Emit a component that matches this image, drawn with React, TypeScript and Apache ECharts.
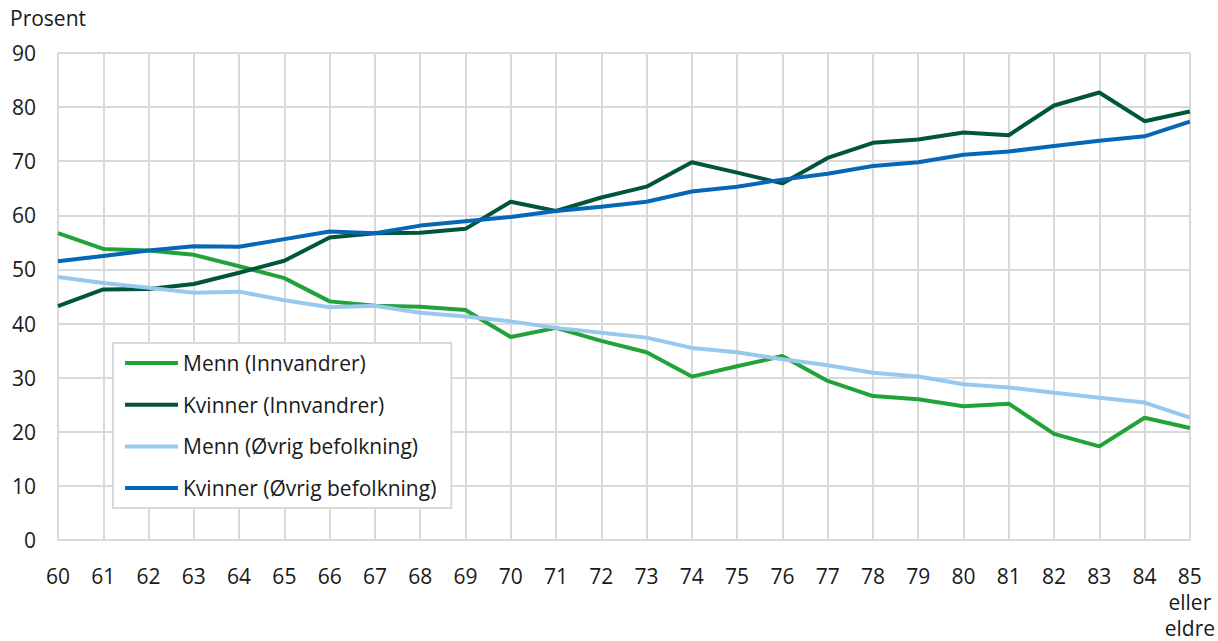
import React, { useEffect, useRef } from "react";
import * as echarts from "echarts";

const categories = ["60","61","62","63","64","65","66","67","68","69","70","71","72","73","74","75","76","77","78","79","80","81","82","83","84","85\neller\neldre"];
const mennInnvandrer = [56.7,53.8,53.5,52.7,50.6,48.4,44.1,43.3,43.1,42.5,37.5,39.2,36.8,34.7,30.2,32.1,34.0,29.4,26.6,26.0,24.7,25.2,19.6,17.3,22.6,20.7];
const kvinnerInnvandrer = [43.2,46.3,46.4,47.3,49.4,51.6,55.9,56.7,56.8,57.5,62.5,60.8,63.3,65.3,69.8,67.9,65.9,70.6,73.4,74.0,75.3,74.8,80.3,82.7,77.4,79.2];
const mennOvrig = [48.6,47.5,46.6,45.7,45.9,44.3,43.0,43.3,42.0,41.3,40.4,39.2,38.3,37.4,35.5,34.7,33.4,32.3,30.9,30.2,28.8,28.2,27.2,26.3,25.4,22.6];
const kvinnerOvrig = [51.5,52.5,53.5,54.3,54.2,55.6,57.0,56.7,58.1,58.9,59.7,60.8,61.6,62.5,64.4,65.3,66.6,67.7,69.1,69.8,71.2,71.8,72.8,73.8,74.6,77.3];
const seriesNames = ["Menn (Innvandrer)","Kvinner (Innvandrer)","Menn (Øvrig befolkning)","Kvinner (Øvrig befolkning)"];
const seriesColors = ["#22a33a","#00553d","#99c8ef","#0767b7"];
const yTicks = { min: 0, max: 90, interval: 10 };

const FONT = "'Open Sans', 'Noto Sans', sans-serif";

export default function App() {
  const ref = useRef<HTMLDivElement>(null);
  useEffect(() => {
    if (!ref.current) return;
    const chart = echarts.init(ref.current, undefined, { renderer: "svg" });
    const data = [mennInnvandrer, kvinnerInnvandrer, mennOvrig, kvinnerOvrig];
    chart.setOption({
      animation: false,
      textStyle: { fontFamily: FONT },
      grid: { left: 58, right: 26, top: 53, bottom: 100, containLabel: false },
      graphic: [
        { type: "text", left: 10, top: 7, style: { text: "Prosent", fontSize: 21, fontFamily: FONT, fill: "#1a1a1a" } },
      ],
      legend: {
        orient: "vertical",
        left: 113,
        top: 343,
        padding: [8, 15, 8, 12],
        itemGap: 17.7,
        itemWidth: 53,
        itemHeight: 4,
        borderColor: "#d9d9d9",
        borderWidth: 2,
        backgroundColor: "#ffffff",
        icon: "rect",
        textStyle: { fontSize: 21, fontFamily: FONT, color: "#1a1a1a", lineHeight: 24, padding: [0, 0, 0, 0] },
        data: seriesNames,
      },
      xAxis: {
        type: "category",
        data: categories,
        boundaryGap: false,
        axisLine: { show: true, lineStyle: { color: "#d9d9d9", width: 2 } },
        axisTick: { show: false },
        splitLine: { show: true, lineStyle: { color: "#d9d9d9", width: 2 } },
        axisLabel: { fontSize: 21, color: "#1a1a1a", margin: 23, lineHeight: 26, fontFamily: FONT, interval: 0 },
      },
      yAxis: {
        type: "value",
        min: yTicks.min,
        max: yTicks.max,
        interval: yTicks.interval,
        axisLine: { show: false },
        axisTick: { show: false },
        splitLine: { show: true, lineStyle: { color: "#d9d9d9", width: 2 } },
        axisLabel: { fontSize: 21, color: "#1a1a1a", margin: 22, fontFamily: FONT },
      },
      series: data.map((d, i) => ({
        name: seriesNames[i],
        type: "line",
        data: d,
        symbol: "none",
        color: seriesColors[i],
        lineStyle: { width: 4, color: seriesColors[i] },
        z: 2 + i,
      })),
    });
    return () => chart.dispose();
  }, []);
  return <div ref={ref} style={{ width: 1218, height: 641, position: "absolute", left: 0, top: 0, background: "#fff" }} />;
}
